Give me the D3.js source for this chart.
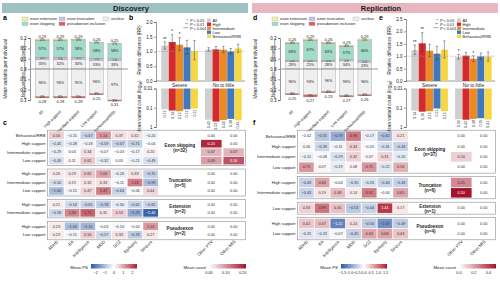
<!DOCTYPE html>
<html><head><meta charset="utf-8">
<script src="https://cdn.jsdelivr.net/npm/d3@7"></script>
<style>
body{margin:0;background:#fff}
svg{font-family:"Liberation Sans",Arial,sans-serif}
</style></head><body>
<svg width="500" height="290"></svg>
<script>
var stackCats = ["All","High support","Intermediate support","Low support","Behavioral/RRB"];
var rrGroups = ["Severe","No to little"];
var rrSeries = ["All","High","Intermediate","Low","Behavioral/RRB"];
var traits = ["ADHD","EA","Intelligence","MDD","SCZ","Epilepsy","Seizure"];
var otherCols = ["Other PTV","Other MIS"];

// discovery (a)
var discGenTotal = [0.29,0.29,0.29,0.26,0.25];
var discExt = [4,4,3,2,2];
var discSkip = [57,57,58,58,58];
var discTrunc = [6,7,6,7,7];
var discUnclear = [33,32,33,33,33];
var discNonTotal = [0.28,0.28,0.28,0.25,0.31];
var discNonUnclear = [96,96,95,96,97];
var discNonPseudo = [4,4,5,4,3];
// discovery (b)
var discRR = [[1.20,1.32,1.23,1.14,1.01],[1.07,1.07,1.06,1.00,1.10]];
var discRRLo = [[1.08,1.12,1.03,0.92,0.72],[1.01,0.98,0.96,0.91,0.97]];
var discRRHi = [[1.33,1.57,1.47,1.38,1.37],[1.13,1.17,1.17,1.10,1.25]];
var discStars = [["**","*","*","",""],["","","","",""]];
var discCount = [[0.12,0.14,0.15,0.12,0.11],[0.42,0.52,0.43,0.38,0.45]];
// discovery (c)
var discGroups = ["Exon skipping","Truncation","Extension","Pseudoexon"];
var discGroupN = [32,5,2,2];
var discRows = [["Behavioral/RRB","High support","Intermediate support","Low support"],
  ["High support","Intermediate support","Low support"],
  ["High support","Intermediate support"],
  ["High support","Low support"]];
var discPS = [
  [[0.56,-0.15,-0.67,1.14,0.37,0.32,-0.20],[-0.45,-0.28,-0.18,-0.59,-0.67,-0.71,-0.04],[-0.29,0.04,0.34,-0.07,-0.03,-0.17,0.20],[-0.49,0.11,0.61,-0.32,0.03,-0.21,-0.49]],
  [[0.26,0.29,0.65,1.03,-0.26,0.33,-0.70],[-0.50,0.19,0.32,0.33,-0.11,1.43,-0.99],[-1.00,-0.15,0.47,1.47,-0.64,-0.06,0.44]],
  [[0.21,-0.54,-0.65,-0.78,-0.30,-0.62,-0.65],[-0.58,1.36,1.71,0.31,0.53,-1.29,-2.40]],
  [[0.23,-1.00,-1.11,-0.03,-0.10,-0.001,1.16],[0.23,-0.15,0.56,-0.57,0.33,-0.76,0.27]]];
var discOther = [
  [[0,0],[0.20,0],[0.07,0.07],[0.09,0.16]],
  [[0,0],[0,0],[0,0]],
  [[0,0],[0,0]],
  [[0,0],[0,0]]];

// replication (d)
var repGenTotal = [0.26,0.29,0.26,0.23,0.29];
var repExt = [4,4,4,4,6];
var repSkip = [63,67,63,57,66];
var repTrunc = [5,4,5,5,5];
var repUnclear = [28,25,28,34,23];
var repNonTotal = [0.25,0.27,0.23,0.27,0.26];
var repNonUnclear = [96,93,96,96,96];
var repNonPseudo = [4,7,4,4,4];
// replication (e)
var repRR = [[1.25,1.52,1.22,1.10,1.26],[0.97,1.02,0.90,0.99,0.98]];
var repRRLo = [[1.07,1.18,0.98,0.85,0.93],[0.88,0.90,0.78,0.86,0.80]];
var repRRHi = [[1.45,1.95,1.48,1.40,1.62],[1.07,1.15,1.02,1.13,1.17]];
var repStars = [["**","**","","",""],["*","","*","",""]];
var repCount = [[0.14,0.16,0.15,0.11,0.15],[0.39,0.42,0.38,0.35,0.41]];
// replication (f)
var repGroups = ["Exon skipping","Truncation","Extension","Pseudoexon"];
var repGroupN = [37,6,1,4];
var repRows = [["Behavioral/RRB","High support","Intermediate support","Low support"],
  ["High support","Intermediate support"],
  ["Low support"],
  ["High support","Low support"]];
var repPS = [
  [[-0.02,-0.55,-0.79,0.96,-0.17,-0.62,0.21],[0.06,-0.39,-0.11,0.34,-0.05,-0.31,-0.43],[-0.15,-0.08,-0.29,0.32,0.07,0.31,-0.20],[0.75,0.07,-0.19,0.08,0.75,-0.22,0.56]],
  [[-0.43,0.66,-0.04,-0.35,-0.26,-0.40,-0.43],[-0.43,0.19,0.48,0.14,0.92,-0.04,0.65]],
  [[0.33,0.99,0.45,-0.53,-0.44,1.41,0.17]],
  [[0.42,0.47,-1.21,0.24,-0.50,-1.07,-0.49],[-0.25,-0.23,-0.07,-0.45,0.63,0.66,0.43]]];
var repOther = [
  [[0,0],[0,0],[0.10,0],[0,0]],
  [[0.25,0],[0.50,0]],
  [[0,0]],
  [[0,0],[0,0]]];

var colExt = "#f6efa2", colSkip = "#a3dbc9", colTrunc = "#c6bfe6", colUnclear = "#efefef", colPseudo = "#df625a";
var serColors = ["#cfcfcf","#d42a2c","#ec8a22","#3f78c0","#f6d743"];

var svg = d3.select("svg");

function fmt2(v) { return (v < 0 ? "\u2212" : "") + Math.abs(v).toFixed(2); }

// header bars
[{t:"Discovery",x:2,c:"#a0c1c1"},{t:"Replication",x:252,c:"#e7b6c0"}].forEach(function(h) {
  svg.append("rect").attr("x",h.x).attr("y",3).attr("width",246).attr("height",10).attr("fill",h.c);
  svg.append("text").attr("x",h.x+129).attr("y",10.8).attr("text-anchor","middle")
    .attr("font-size",7.5).attr("font-weight","bold").attr("fill","#1a1a1a").text(h.t);
});

[["a",3,20],["b",129,20],["c",3,125],["d",253,20],["e",379,20],["f",253,125]].forEach(function(p) {
  svg.append("text").attr("x",p[1]).attr("y",p[2]).attr("font-size",7).attr("font-weight","bold").text(p[0]);
});

function styleAxis(a, fs) {
  a.selectAll("path,line").attr("stroke","#333").attr("stroke-width",0.5);
  a.selectAll("text").attr("font-size",fs).attr("fill","#222").attr("font-family","Liberation Sans, Arial, sans-serif");
}

function drawStack(ox, total, ext, skip, trunc, unclear, nTotal, nUnclear, nPseudo) {
  var g = svg.append("g");
  var y = d3.scaleLinear().domain([-0.3,0.3]).range([100,38]);
  var x = d3.scaleBand().domain(stackCats).range([ox+31, ox+126]).padding(0.25);

  // legend
  var leg = [["exon extension",colExt,0,0],["exon truncation",colTrunc,37,0],["unclear",colUnclear,81,0],
             ["exon skipping",colSkip,0,1],["pseudoexon inclusion",colPseudo,37,1]];
  leg.forEach(function(l) {
    g.append("rect").attr("x",ox+22+l[2]).attr("y",17+l[3]*5).attr("width",6).attr("height",3.6)
      .attr("fill",l[1]).attr("stroke","#999").attr("stroke-width",0.3);
    g.append("text").attr("x",ox+30+l[2]).attr("y",20.2+l[3]*5).attr("font-size",4).attr("fill","#222").text(l[0]);
  });

  var ax = g.append("g").attr("transform","translate("+(ox+30)+",0)")
    .call(d3.axisLeft(y).tickValues([-0.3,-0.2,-0.1,0,0.1,0.2,0.3]).tickFormat(function(v){return Math.abs(v).toFixed(1);}).tickSize(2).tickPadding(1.5));
  styleAxis(ax, 4.5);

  g.append("text").attr("transform","translate("+(ox+7)+",69) rotate(-90)").attr("text-anchor","middle")
    .attr("font-size",4.8).attr("fill","#222").text("Mean variants per individual");
  // genomic brackets
  [["Genomic",0.29,0.005],["Non-genomic",-0.005,-0.29]].forEach(function(b) {
    g.append("path").attr("d","M"+(ox+26)+","+y(b[1])+"h-1.2V"+y(b[2])+"h1.2")
      .attr("fill","none").attr("stroke","#333").attr("stroke-width",0.5);
    g.append("text").attr("transform","translate("+(ox+23.5)+","+y((b[1]+b[2])/2)+") rotate(-90)")
      .attr("text-anchor","middle").attr("font-size",4.3).attr("fill","#222").text(b[0]);
  });

  stackCats.forEach(function(c, i) {
    var xc = x(c), bw = x.bandwidth();
    var segs = [[unclear[i],colUnclear],[trunc[i],colTrunc],[skip[i],colSkip],[ext[i],colExt]];
    var sum = d3.sum(segs, function(s){return s[0];});
    var acc = 0;
    segs.forEach(function(s) {
      var v = total[i]*s[0]/sum;
      g.append("rect").attr("x",xc).attr("width",bw).attr("y",y(acc+v)).attr("height",y(acc)-y(acc+v))
        .attr("fill",s[1]).attr("stroke","#8a8a8a").attr("stroke-width",0.35);
      g.append("text").attr("x",xc+bw/2).attr("y",(y(acc)+y(acc+v))/2+1.2).attr("text-anchor","middle")
        .attr("font-size",s[0] < 10 ? 3.3 : 3.8).attr("fill","#222").text(s[0]+"%");
      acc += v;
    });
    g.append("text").attr("x",xc+bw/2).attr("y",y(total[i])-1.4).attr("text-anchor","middle")
      .attr("font-size",4).attr("fill","#222").text(total[i].toFixed(2));

    var nsegs = [[nUnclear[i],colUnclear],[nPseudo[i],colPseudo]];
    var nsum = d3.sum(nsegs, function(s){return s[0];});
    acc = 0;
    nsegs.forEach(function(s) {
      var v = nTotal[i]*s[0]/nsum;
      g.append("rect").attr("x",xc).attr("width",bw).attr("y",y(-acc)).attr("height",y(-acc-v)-y(-acc))
        .attr("fill",s[1]).attr("stroke","#8a8a8a").attr("stroke-width",0.35);
      g.append("text").attr("x",xc+bw/2).attr("y",(y(-acc)+y(-acc-v))/2+1.1).attr("text-anchor","middle")
        .attr("font-size",s[0] < 10 ? 3.3 : 3.8).attr("fill","#222").text(s[0]+"%");
      acc += v;
    });
    g.append("text").attr("x",xc+bw/2).attr("y",y(-nTotal[i])+4.9).attr("text-anchor","middle")
      .attr("font-size",4).attr("fill","#222").text(nTotal[i].toFixed(2));

    g.append("text").attr("transform","translate("+(xc+bw/2+1)+",112) rotate(-45)").attr("text-anchor","end")
      .attr("font-size",4).attr("fill","#222").text(c);
  });
  g.append("line").attr("x1",ox+30).attr("x2",ox+128).attr("y1",y(0)).attr("y2",y(0))
    .attr("stroke","#9a9a9a").attr("stroke-width",1);
}

function drawRR(ox, maxY, topY, rr, lo, hi, stars, counts) {
  var g = svg.append("g");
  var yT = d3.scaleLinear().domain([0,maxY]).range([81,topY]);
  var x0 = d3.scaleBand().domain(rrGroups).range([ox+161, ox+242]).paddingInner(0.15);
  var x1 = d3.scaleBand().domain(rrSeries).range([0, x0.bandwidth()]).padding(0.04);
  var ticks = d3.range(0, maxY+0.01, 0.5);
  var ax = g.append("g").attr("transform","translate("+(ox+156)+",0)")
    .call(d3.axisLeft(yT).tickValues(ticks).tickFormat(d3.format(".1f")).tickSize(2).tickPadding(1.5));
  styleAxis(ax, 4.5);
  g.append("line").attr("x1",ox+156).attr("x2",ox+245).attr("y1",81).attr("y2",81).attr("stroke","#333").attr("stroke-width",0.5);
  g.append("text").attr("transform","translate("+(ox+141)+",50) rotate(-90)").attr("text-anchor","middle")
    .attr("font-size",4.6).attr("fill","#222").text("Relative difference (RR)");

  rrGroups.forEach(function(gr, gi) {
    rrSeries.forEach(function(s, si) {
      var bx = x0(gr)+x1(s), bw = x1.bandwidth(), cx = bx+bw/2;
      g.append("rect").attr("x",bx).attr("width",bw).attr("y",yT(rr[gi][si])).attr("height",81-yT(rr[gi][si]))
        .attr("fill",serColors[si]);
      g.append("path").attr("d","M"+(cx-1.2)+","+yT(hi[gi][si])+"h2.4M"+cx+","+yT(hi[gi][si])+"V"+yT(lo[gi][si])+"M"+(cx-1.2)+","+yT(lo[gi][si])+"h2.4")
        .attr("stroke","#333").attr("stroke-width",0.45).attr("fill","none");
      if (stars[gi][si]) g.append("text").attr("x",cx).attr("y",yT(hi[gi][si])-1.2).attr("text-anchor","middle")
        .attr("font-size",4.5).attr("fill","#222").text(stars[gi][si]);
    });
    g.append("text").attr("x",x0(gr)+x0.bandwidth()/2).attr("y",86.5).attr("text-anchor","middle")
      .attr("font-size",4.8).attr("fill","#222").text(gr);
  });
  g.append("line").attr("x1",ox+156).attr("x2",ox+245).attr("y1",yT(1)).attr("y2",yT(1))
    .attr("stroke","#999").attr("stroke-width",0.6).attr("stroke-dasharray","1.5,1.2");

  // legends
  rrSeries.forEach(function(s, si) {
    g.append("rect").attr("x",ox+207).attr("y",18.5+si*4).attr("width",4).attr("height",3.4).attr("fill",serColors[si]);
    g.append("text").attr("x",ox+212.5).attr("y",21.6+si*4).attr("font-size",4).attr("fill","#222").text(s);
  });
  [["*","0.05"],["**","0.01"],["***","0.001"]].forEach(function(p, i) {
    g.append("text").attr("x",ox+188).attr("y",22+i*4).attr("text-anchor","end").attr("font-size",4).attr("fill","#222").text(p[0]);
    var t = g.append("text").attr("x",ox+190).attr("y",21.6+i*4).attr("font-size",3.8).attr("fill","#222");
    t.append("tspan").attr("font-style","italic").text("P");
    t.append("tspan").text(" < "+p[1]);
  });

  // log count chart
  var yL = d3.scaleLog().domain([0.01,1]).range([88.5,127]);
  var ax2 = g.append("g").attr("transform","translate("+(ox+156)+",0)")
    .call(d3.axisLeft(yL).tickValues([0.01,0.1,1]).tickFormat(function(v){return String(v);}).tickSize(2).tickPadding(1.5));
  styleAxis(ax2, 4.5);
  var yl = g.append("text").attr("transform","translate("+(ox+141)+",107) rotate(-90)").attr("text-anchor","middle")
    .attr("font-size",4.6).attr("fill","#222");
  yl.append("tspan").text("Mean variant count (log");
  yl.append("tspan").attr("font-size",3.2).attr("dy",1).text("10");
  yl.append("tspan").attr("dy",-1).text(")");
  rrGroups.forEach(function(gr, gi) {
    rrSeries.forEach(function(s, si) {
      var bx = x0(gr)+x1(s), bw = x1.bandwidth(), v = counts[gi][si];
      g.append("rect").attr("x",bx).attr("width",bw).attr("y",88.5).attr("height",yL(v)-88.5).attr("fill",serColors[si]);
      g.append("text").attr("transform","translate("+(bx+bw/2+1.3)+","+(yL(v)+1.2)+") rotate(-90)")
        .attr("text-anchor","end").attr("font-size",3.6).attr("fill","#222").text(v.toFixed(2));
    });
  });
}

function drawHeat(ox, groups, groupN, rows, ps, other, psMax, psTicks, cMax, cTicks, cFmt) {
  var g = svg.append("g");
  var top = 131, bottom = 239, gap = 5;
  var nRows = d3.sum(rows, function(r){return r.length;});
  var h = (bottom - top - gap*(rows.length-1))/nRows;
  var x = d3.scaleBand().domain(traits).range([ox+49, ox+158]).paddingInner(0.06);
  var xo = d3.scaleBand().domain(otherCols).range([ox+201, ox+244]).paddingInner(0.08);
  var col = d3.scaleLinear().domain([-psMax,0,psMax]).range(["#2f5ba8","#ffffff","#b01e2f"]).clamp(true);
  var ccol = d3.scaleLinear().domain([0,cMax]).range(["#ffffff","#a5132b"]).clamp(true);
  var yy = top;
  groups.forEach(function(gn, gi) {
    var gh = rows[gi].length*h;
    g.append("rect").attr("x",ox+47.5).attr("y",yy-0.8).attr("width",198).attr("height",gh+1.6)
      .attr("fill","none").attr("stroke","#8c8c8c").attr("stroke-width",0.6);
    var gt = g.append("text").attr("x",ox+180).attr("y",yy+gh/2-0.5).attr("text-anchor","middle")
      .attr("font-size",4.5).attr("font-weight","bold").attr("fill","#222");
    gt.append("tspan").attr("x",ox+180).text(gn);
    gt.append("tspan").attr("x",ox+180).attr("dy",5).text("(n="+groupN[gi]+")");
    rows[gi].forEach(function(rl, ri) {
      var ry = yy + ri*h;
      g.append("text").attr("x",ox+45.5).attr("y",ry+h/2+1.4).attr("text-anchor","end")
        .attr("font-size",4.2).attr("fill","#222").text(rl);
      traits.forEach(function(t, ti) {
        var v = ps[gi][ri][ti];
        g.append("rect").attr("x",x(t)).attr("y",ry+0.4).attr("width",x.bandwidth()).attr("height",h-0.8).attr("fill",col(v));
        g.append("text").attr("x",x(t)+x.bandwidth()/2).attr("y",ry+h/2+1.3).attr("text-anchor","middle")
          .attr("font-size",3.8).attr("fill",Math.abs(v)/psMax > 0.7 ? "#fff" : "#333").text(fmt2(v));
      });
      otherCols.forEach(function(oc, oi) {
        var v = other[gi][ri][oi];
        g.append("rect").attr("x",xo(oc)).attr("y",ry+0.4).attr("width",xo.bandwidth()).attr("height",h-0.8).attr("fill",ccol(v));
        g.append("text").attr("x",xo(oc)+xo.bandwidth()/2).attr("y",ry+h/2+1.3).attr("text-anchor","middle")
          .attr("font-size",3.8).attr("fill",v/cMax > 0.7 ? "#fff" : "#333").text(v.toFixed(2));
      });
    });
    yy += gh + gap;
  });
  traits.forEach(function(t) {
    g.append("text").attr("transform","translate("+(x(t)+x.bandwidth()/2+2)+","+(bottom+3)+") rotate(-45)")
      .attr("text-anchor","end").attr("font-size",4.3).attr("fill","#222").text(t);
  });
  otherCols.forEach(function(oc) {
    g.append("text").attr("transform","translate("+(xo(oc)+xo.bandwidth()/2+2)+","+(bottom+3)+") rotate(-45)")
      .attr("text-anchor","end").attr("font-size",4.3).attr("fill","#222").text(oc);
  });

  // colour bars
  var defs = svg.append("defs");
  var gid = "ps"+ox, cid = "cc"+ox;
  var lg = defs.append("linearGradient").attr("id",gid);
  [-psMax,0,psMax].forEach(function(v,i){ lg.append("stop").attr("offset",(i*50)+"%").attr("stop-color",col(v)); });
  var lc = defs.append("linearGradient").attr("id",cid);
  [0,cMax].forEach(function(v,i){ lc.append("stop").attr("offset",(i*100)+"%").attr("stop-color",ccol(v)); });
  var bx = d3.scaleLinear().domain([-psMax,psMax]).range([ox+91, ox+137]);
  g.append("text").attr("x",ox+88).attr("y",268.5).attr("text-anchor","end").attr("font-size",4.3).attr("fill","#222").text("Mean PS");
  g.append("rect").attr("x",ox+91).attr("y",264).attr("width",46).attr("height",4.5).attr("fill","url(#"+gid+")");
  psTicks.forEach(function(t) {
    g.append("text").attr("x",bx(t)).attr("y",273.5).attr("text-anchor","middle").attr("font-size",3.8).attr("fill","#222")
      .text(d3.format(psTicks.length > 5 ? ".1f" : "d")(t).replace("-","\u2212"));
  });
  var cx = d3.scaleLinear().domain([0,cMax]).range([ox+209, ox+246]);
  g.append("text").attr("x",ox+206).attr("y",268.5).attr("text-anchor","end").attr("font-size",4.3).attr("fill","#222").text("Mean count");
  g.append("rect").attr("x",ox+209).attr("y",264).attr("width",37).attr("height",4.5).attr("fill","url(#"+cid+")");
  cTicks.forEach(function(t) {
    g.append("text").attr("x",cx(t)).attr("y",273.5).attr("text-anchor","middle").attr("font-size",3.8).attr("fill","#222").text(d3.format(cFmt)(t));
  });
}

drawStack(0, discGenTotal, discExt, discSkip, discTrunc, discUnclear, discNonTotal, discNonUnclear, discNonPseudo);
drawStack(250, repGenTotal, repExt, repSkip, repTrunc, repUnclear, repNonTotal, repNonUnclear, repNonPseudo);
drawRR(0, 2.0, 22, discRR, discRRLo, discRRHi, discStars, discCount);
drawRR(250, 2.5, 19, repRR, repRRLo, repRRHi, repStars, repCount);
drawHeat(0, discGroups, discGroupN, discRows, discPS, discOther, 2.5, [-2,-1,0,1,2], 0.22, [0,0.1,0.2], ".2f");
drawHeat(250, repGroups, repGroupN, repRows, repPS, repOther, 1.6, [-1.5,-1,-0.5,0,0.5,1,1.5], 0.5, [0,0.2,0.4], ".1f");
</script></body></html>
